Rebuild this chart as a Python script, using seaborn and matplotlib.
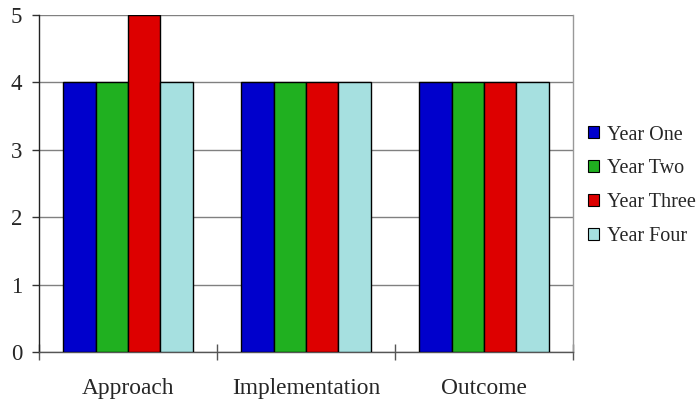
import pandas as pd
import matplotlib
matplotlib.use("Agg")
import matplotlib.pyplot as plt
import seaborn as sns
from matplotlib.ticker import FixedLocator

# dados
categorias = ["Approach", "Implementation", "Outcome"]
series = ["Year One", "Year Two", "Year Three", "Year Four"]
year_one = [4, 4, 4]
year_two = [4, 4, 4]
year_three = [5, 4, 4]
year_four = [4, 4, 4]
cores = ["#0000CC", "#20B020", "#DD0000", "#A6E0E0"]

valores = [year_one, year_two, year_three, year_four]
linhas = []
for s, vals in zip(series, valores):
    for c, v in zip(categorias, vals):
        linhas.append({"categoria": c, "serie": s, "valor": v})
df = pd.DataFrame(linhas)

sns.set_style("white")
plt.rcParams["font.family"] = ["Liberation Serif", "DejaVu Serif"]

fig = plt.figure(figsize=(6.97, 4.04), dpi=100)
ax = fig.add_axes([39 / 697, 52 / 404, 534 / 697, 337 / 404])

sns.barplot(data=df, x="categoria", y="valor", hue="serie", hue_order=series,
            palette=cores, width=0.73, edgecolor="black", linewidth=1.0,
            saturation=1, ax=ax, zorder=3)

ax.set_xlim(-0.5, 2.5)
ax.set_ylim(0, 5)
ax.set_yticks(range(0, 6))
ax.yaxis.grid(True, color="#808080", linewidth=1.0, zorder=0)
ax.set_axisbelow(True)
ax.set_xlabel("")
ax.set_ylabel("")

# ticks nas fronteiras das categorias
ax.xaxis.set_minor_locator(FixedLocator([-0.5, 0.5, 1.5, 2.5]))
ax.tick_params(axis="x", which="major", length=0, pad=19, labelsize=16.8)
ax.tick_params(axis="x", which="minor", length=12, direction="inout",
               color="#555555", width=1.0, bottom=True)
ax.tick_params(axis="y", which="major", length=5, direction="out",
               color="#333333", width=1.0, left=True, pad=7, labelsize=16.5)

ax.spines["top"].set_visible(False)
ax.spines["left"].set_color("#222222")
ax.spines["bottom"].set_color("#555555")
ax.spines["right"].set_color("#999999")
for sp in ax.spines.values():
    sp.set_linewidth(1.0)

leg = ax.legend(loc="center left", bbox_to_anchor=(1.013, 0.493), frameon=False,
                fontsize=14.5, handlelength=0.55, handleheight=0.55,
                labelspacing=0.74, handletextpad=0.4, borderaxespad=0)
for h in leg.legend_handles:
    h.set_edgecolor("black")
    h.set_linewidth(0.8)

fig.savefig("out.png", dpi=100)
